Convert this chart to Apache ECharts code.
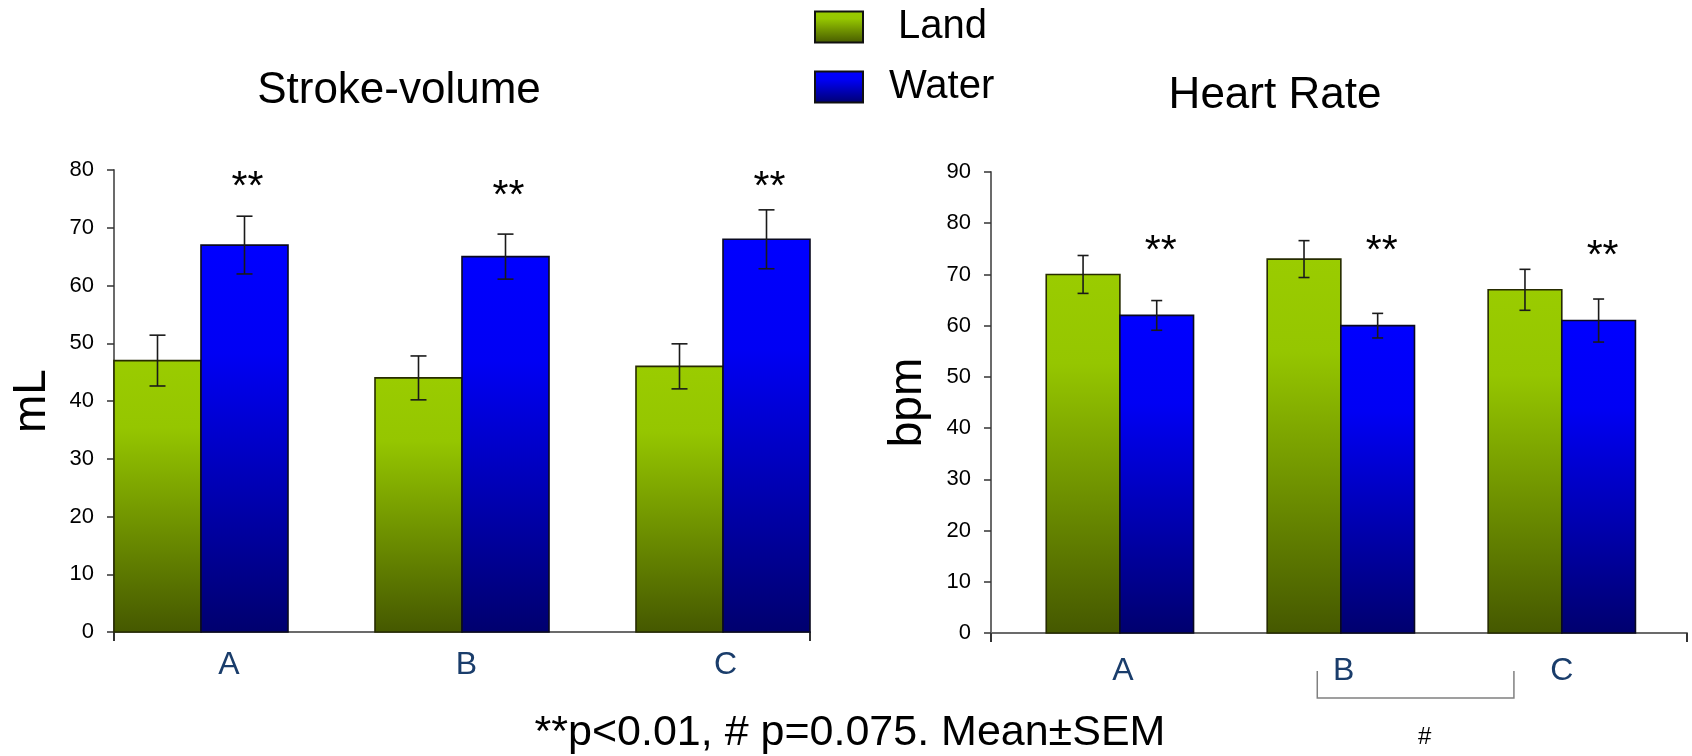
<!DOCTYPE html>
<html>
<head>
<meta charset="utf-8">
<script src="https://cdn.jsdelivr.net/npm/echarts@6/dist/echarts.min.js"></script>
<style>
  html, body { margin: 0; padding: 0; background: #fff; }
  #chart { width: 1692px; height: 756px; }
</style>
</head>
<body>
<div id="chart"></div>
<script>
// ---- data ----
const categories = ['A', 'B', 'C'];
const seriesNames = ['Land', 'Water'];

// Stroke volume (mL): mean and SEM
const svLand = [47, 44, 46];
const svLandSem = [4.4, 3.8, 3.9];
const svWater = [67, 65, 68];
const svWaterSem = [5.0, 3.9, 5.1];

// Heart rate (bpm): mean and SEM
const hrLand = [70, 73, 67];
const hrLandSem = [3.7, 3.6, 4.0];
const hrWater = [62, 60, 61];
const hrWaterSem = [2.9, 2.4, 4.2];

// significance marks above the Water bars (value-axis height of each mark)
const svStars = ['**', '**', '**'];
const svStarAt = [78.3, 76.7, 78.3];
const hrStars = ['**', '**', '**'];
const hrStarAt = [76.1, 76.0, 75.0];

// value-axis tick ranges
const svAxis = { min: 0, max: 80, step: 10 };
const hrAxis = { min: 0, max: 90, step: 10 };

// ---- layout ----
const FONT = '"Liberation Sans", Arial, Helvetica, sans-serif';
const panels = [
  { grid: { left: 114, top: 170, width: 696, height: 462 }, span: 8, centers: [1, 4, 7],
    labelAt: [1.32, 4.05, 7.03], cap: 8, starDx: 3, title: 'Stroke-volume', titleX: 399, titleY: 91,
    yName: 'mL', nameGap: 59, labelMargin: 17 },
  { grid: { left: 991, top: 172, width: 696, height: 461 }, span: 9.45, centers: [1.75, 4.75, 7.75],
    labelAt: [1.79, 4.79, 7.75], cap: 5.5, starDx: 4, title: 'Heart Rate', titleX: 1275, titleY: 96,
    yName: 'bpm', nameGap: 60, labelMargin: 22 }
];
const bracket = { from: 4.43, to: 7.10, top: 38, bottom: 65 };

const greenFill = () => new echarts.graphic.LinearGradient(0, 0, 0, 1, [
  { offset: 0, color: '#9ACC00' }, { offset: 0.25, color: '#95C600' }, { offset: 1, color: '#455800' }
]);
const blueFill = () => new echarts.graphic.LinearGradient(0, 0, 0, 1, [
  { offset: 0, color: '#0000FF' }, { offset: 0.28, color: '#0000F4' }, { offset: 1, color: '#00006E' }
]);
const fills = [greenFill, blueFill];
const borders = ['#262B00', '#0A0A20'];

const chart = echarts.init(document.getElementById('chart'), null, { renderer: 'canvas' });

function barRender(fillFn, border) {
  return function (params, api) {
    const x = api.value(0), v = api.value(1);
    const p0 = api.coord([x - 0.5, v]);
    const p1 = api.coord([x + 0.5, 0]);
    return {
      type: 'rect',
      shape: { x: p0[0], y: p0[1], width: p1[0] - p0[0], height: p1[1] - p0[1] },
      style: { fill: fillFn(), stroke: border, lineWidth: 1.6 }
    };
  };
}

function errRender(cap) {
  return function (params, api) {
    const x = api.value(0), m = api.value(1), e = api.value(2);
    const hi = api.coord([x, m + e]);
    const lo = api.coord([x, m - e]);
    const st = { stroke: '#1a1a1a', lineWidth: 1.6 };
    return {
      type: 'group',
      children: [
        { type: 'line', shape: { x1: hi[0], y1: hi[1], x2: lo[0], y2: lo[1] }, style: st },
        { type: 'line', shape: { x1: hi[0] - cap, y1: hi[1], x2: hi[0] + cap, y2: hi[1] }, style: st },
        { type: 'line', shape: { x1: lo[0] - cap, y1: lo[1], x2: lo[0] + cap, y2: lo[1] }, style: st }
      ]
    };
  };
}

function starRender(marks, dx) {
  return function (params, api) {
    const pt = api.coord([api.value(0), api.value(1)]);
    return {
      type: 'text',
      x: pt[0] + dx, y: pt[1] + 8,
      style: { text: marks[params.dataIndex], fontSize: 41, fontFamily: FONT, fill: '#000',
               align: 'center', verticalAlign: 'middle' }
    };
  };
}

const datasets = [
  { land: svLand, landSem: svLandSem, water: svWater, waterSem: svWaterSem, axis: svAxis, stars: svStars, starAt: svStarAt },
  { land: hrLand, landSem: hrLandSem, water: hrWater, waterSem: hrWaterSem, axis: hrAxis, stars: hrStars, starAt: hrStarAt }
];

const grids = [], xAxes = [], yAxes = [], series = [];
panels.forEach((p, i) => {
  const d = datasets[i];
  grids.push(Object.assign({ outerBoundsMode: 'none', containLabel: false }, p.grid));
  xAxes.push({
    type: 'value', gridIndex: i, min: 0, max: p.span,
    axisLine: { show: true, onZero: false, lineStyle: { color: '#6b6b6b', width: 2 } },
    axisTick: { show: true, customValues: [0, p.span], length: 9, lineStyle: { color: '#333', width: 2 } },
    splitLine: { show: false },
    axisLabel: {
      show: true, customValues: p.labelAt, margin: p.labelMargin,
      formatter: v => categories[p.labelAt.indexOf(v)] || '',
      fontSize: 32, color: '#1A3D6B', fontFamily: FONT
    }
  });
  yAxes.push({
    type: 'value', gridIndex: i, min: d.axis.min, max: d.axis.max, interval: d.axis.step,
    axisLine: { show: true, lineStyle: { color: '#6b6b6b', width: 2 } },
    axisTick: { show: true, length: 7, lineStyle: { color: '#333', width: 1.5 } },
    splitLine: { show: false },
    axisLabel: { fontSize: 22, color: '#000', margin: 20, fontFamily: FONT },
    name: p.yName, nameLocation: 'middle', nameRotate: 90, nameGap: p.nameGap,
    nameTextStyle: { fontSize: 46, color: '#000', fontFamily: FONT }
  });
  const landRows = d.land.map((v, k) => [p.centers[k] - 0.5, v]);
  const waterRows = d.water.map((v, k) => [p.centers[k] + 0.5, v]);
  [landRows, waterRows].forEach((rows, s) => {
    series.push({
      type: 'custom', name: seriesNames[s], xAxisIndex: i, yAxisIndex: i,
      itemStyle: { color: fills[s](), borderColor: '#111', borderWidth: 2 },
      renderItem: barRender(fills[s], borders[s]),
      encode: { x: 0, y: 1 }, data: rows, z: 2
    });
  });
  const errRows = d.land.map((v, k) => [p.centers[k] - 0.5, v, d.landSem[k]])
    .concat(d.water.map((v, k) => [p.centers[k] + 0.5, v, d.waterSem[k]]));
  series.push({
    type: 'custom', name: 'SEM ' + i, xAxisIndex: i, yAxisIndex: i,
    renderItem: errRender(p.cap), encode: { x: 0, y: [1, 2] }, data: errRows, z: 3, silent: true
  });
  series.push({
    type: 'custom', name: 'sig ' + i, xAxisIndex: i, yAxisIndex: i,
    renderItem: starRender(d.stars, p.starDx), encode: { x: 0, y: 1 },
    data: d.starAt.map((v, k) => [p.centers[k] + 0.5, v]), z: 4, silent: true
  });
});

const graphics = panels.map(p => ({
  type: 'text', x: p.titleX, y: p.titleY,
  style: { text: p.title, fontSize: 44, fontFamily: FONT, fill: '#000', align: 'center', verticalAlign: 'middle' }
}));
graphics.push({
  type: 'text', x: 850, y: 733,
  style: { text: '**p<0.01, # p=0.075. Mean\u00B1SEM', fontSize: 43, fontFamily: FONT, fill: '#000',
           align: 'center', verticalAlign: 'middle' }
});

chart.setOption({
  animation: false,
  backgroundColor: '#fff',
  textStyle: { fontFamily: FONT },
  legend: {
    orient: 'vertical', left: 809, top: 2, itemGap: 20, itemWidth: 48, itemHeight: 31,
    icon: 'rect', selectedMode: false,
    textStyle: { fontSize: 40, color: '#000', fontFamily: FONT },
    data: [
      { name: 'Land', textStyle: { padding: [0, 0, 0, 30] } },
      { name: 'Water', textStyle: { padding: [0, 0, 0, 21] } }
    ]
  },
  grid: grids, xAxis: xAxes, yAxis: yAxes, series: series, graphic: graphics
});

// bracket between B and C on the heart-rate panel, with its mark
const bx0 = chart.convertToPixel({ gridIndex: 1 }, [bracket.from, 0]);
const bx1 = chart.convertToPixel({ gridIndex: 1 }, [bracket.to, 0]);
graphics.push({
  type: 'polyline',
  shape: { points: [[bx0[0], bx0[1] + bracket.top], [bx0[0], bx0[1] + bracket.bottom],
                    [bx1[0], bx1[1] + bracket.bottom], [bx1[0], bx1[1] + bracket.top]] },
  style: { stroke: '#808080', lineWidth: 1.5, fill: null }
});
graphics.push({
  type: 'text', x: (bx0[0] + bx1[0]) / 2 + 9, y: bx0[1] + 104,
  style: { text: '#', fontSize: 24, fontFamily: FONT, fill: '#000', align: 'center', verticalAlign: 'middle' }
});
chart.setOption({ graphic: graphics });
</script>
</body>
</html>
